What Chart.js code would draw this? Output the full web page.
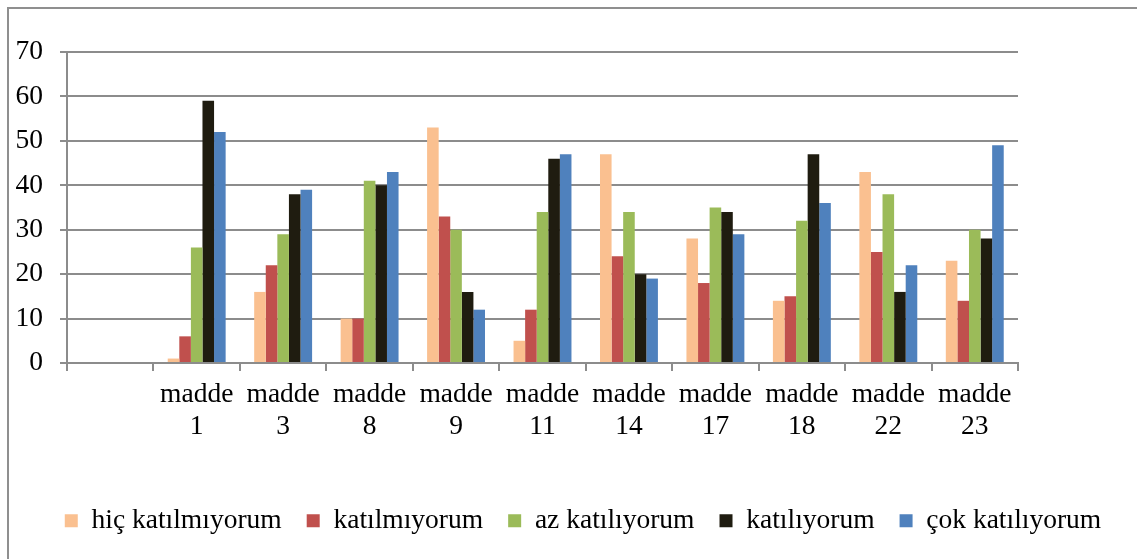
<!DOCTYPE html>
<html>
<head>
<meta charset="utf-8">
<script src="https://cdn.jsdelivr.net/npm/chart.js@4.4.0/dist/chart.umd.min.js"></script>
<style>
html,body{margin:0;padding:0;background:#fff;}
#wrap{position:relative;width:1137px;height:559px;}
</style>
</head>
<body>
<div id="wrap"><canvas id="c" width="1137" height="559"></canvas></div>
<script>
const categories = ['', 'madde 1', 'madde 3', 'madde 8', 'madde 9', 'madde 11', 'madde 14', 'madde 17', 'madde 18', 'madde 22', 'madde 23'];
const seriesNames = ['hiç katılmıyorum', 'katılmıyorum', 'az katılıyorum', 'katılıyorum', 'çok katılıyorum'];
const hicKatilmiyorum = [null, 1, 16, 10, 53, 5, 47, 28, 14, 43, 23];
const katilmiyorum    = [null, 6, 22, 10, 33, 12, 24, 18, 15, 25, 14];
const azKatiliyorum   = [null, 26, 29, 41, 30, 34, 34, 35, 32, 38, 30];
const katiliyorum     = [null, 59, 38, 40, 16, 46, 20, 34, 47, 16, 28];
const cokKatiliyorum  = [null, 52, 39, 43, 12, 47, 19, 29, 36, 22, 49];
const yTicks = [0, 10, 20, 30, 40, 50, 60, 70];

const colors = ['#FAC090', '#C0504D', '#9BBB59', '#1F1C10', '#4F81BD'];
const seriesData = [hicKatilmiyorum, katilmiyorum, azKatiliyorum, katiliyorum, cokKatiliyorum];

const FONT = "'Liberation Serif', 'Times New Roman', serif";
const GRID = '#8c8c8c';

const borderPlugin = {
  id: 'outerBorder',
  beforeDraw(chart) {
    const ctx = chart.ctx;
    ctx.save();
    ctx.strokeStyle = '#8f8f8f';
    ctx.lineWidth = 2;
    ctx.beginPath();
    ctx.moveTo(8, 559);
    ctx.lineTo(8, 8);
    ctx.lineTo(1137, 8);
    ctx.stroke();
    ctx.restore();
  }
};

const legendShift = {
  id: 'legendShift',
  afterLayout(chart) {
    if (chart.legend) {
      chart.legend.left += 14.5;
      chart.legend.right += 14.5;
    }
  }
};

new Chart(document.getElementById('c'), {
  type: 'bar',
  data: {
    labels: categories.map(c => c === '' ? '' : c.split(' ')),
    datasets: seriesNames.map((n, i) => ({
      label: n,
      data: seriesData[i],
      backgroundColor: colors[i],
      borderWidth: 0,
      categoryPercentage: 0.67,
      barPercentage: 1.0
    }))
  },
  options: {
    responsive: false,
    animation: false,
    layout: { padding: { left: 0, right: 0, top: 52, bottom: 14.5 } },
    plugins: {
      tooltip: { enabled: false },
      legend: {
        position: 'bottom',
        labels: {
          boxWidth: 13,
          boxHeight: 13,
          padding: 25,
          color: '#000',
          font: { family: FONT, size: 27.5 }
        }
      }
    },
    scales: {
      x: {
        offset: true,
        grid: { display: true, drawOnChartArea: false, drawTicks: true, tickLength: 8, color: GRID, lineWidth: 2, offset: true },
        border: { display: true, color: GRID, width: 2 },
        ticks: { color: '#000', font: { family: FONT, size: 27.5, lineHeight: 1.16 }, padding: 8, maxRotation: 0, autoSkip: false },
        afterFit(scale) { scale.height = 119; }
      },
      y: {
        min: 0, max: 70,
        afterBuildTicks(scale) { scale.ticks = yTicks.map(v => ({ value: v })); },
        grid: { color: GRID, lineWidth: 2, tickLength: 7, drawTicks: true },
        border: { display: true, color: GRID, width: 2 },
        ticks: { color: '#000', font: { family: FONT, size: 27.5 }, padding: 17 },
        afterFit(scale) { scale.width = 67; }
      },
      spacer: {
        type: 'linear',
        position: 'right',
        display: true,
        grid: { display: false, drawTicks: false },
        border: { display: false },
        ticks: { display: false },
        afterFit(scale) { scale.width = 119; }
      }
    }
  },
  plugins: [borderPlugin, legendShift]
});
</script>
</body>
</html>
